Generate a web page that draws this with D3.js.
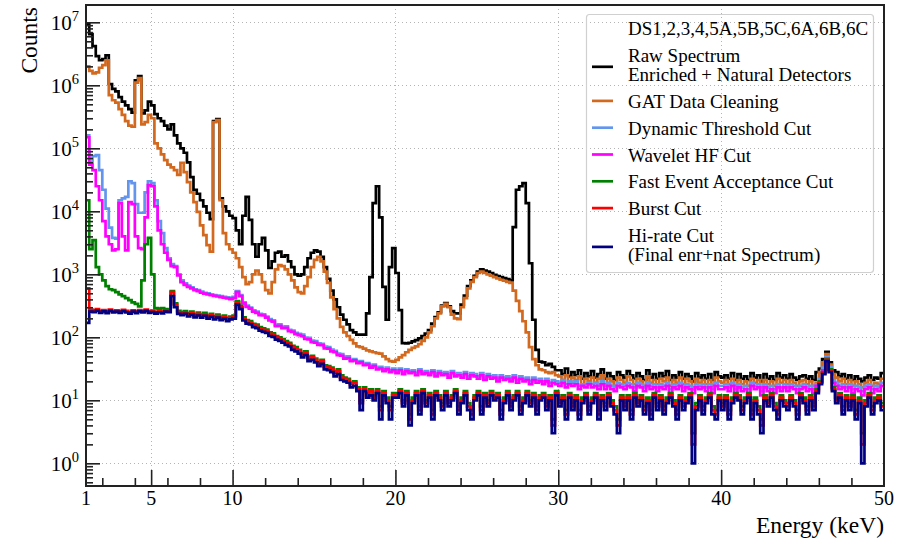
<!DOCTYPE html>
<html>
<head>
<meta charset="utf-8">
<script src="https://cdnjs.cloudflare.com/ajax/libs/d3/7.8.5/d3.min.js"></script>
<style>
body { margin:0; background:#fff; }
</style>
</head>
<body>
<svg id="spectrum"></svg>
<script>
// energy bins: 0.2 keV wide, starting at 1 keV (245 bins up to 50 keV)
var binStart = 1;
var binWidth = 0.2;

var rawSpectrum = [
9.5e6,6.5e6,4.2e6,2.9e6,2.5e6, 2.6e6,3.0e6,1.05e6,8.8e5,8.0e5,
6.5e5,5.5e5,4.8e5,4.2e5,3.7e5, 1.2e6,1.4e6,3.6e5,4.0e5,5.5e5,
4.8e5,3.5e5,3.0e5,2.7e5,2.3e5, 2.0e5,2.4e5,1.6e5,1.2e5,1.0e5,
8.5e4,6.0e4,3.5e4,2.2e4,1.9e4, 1.5e4,1.2e4,9.5e3,7.5e3,2.7e5,
2.9e5,1.6e4,1.2e4,1.0e4,8.5e3, 7.8e3,5.0e3,3.0e3,8.5e3,1.7e4,
7.3e3,3.0e3,1.9e3,3.0e3,3.8e3, 2.4e3,1260,1.6e3,2.2e3,2.3e3,
1.9e3,2.0e3,1.6e3,1.3e3,1.0e3, 950,1.0e3,1.3e3,1.8e3,2.2e3,
2.4e3,2.3e3,1.9e3,1.3e3,850, 550,400,300,230,190,
160,130,120,110,110, 110,240,900,1.35e4,2.5e4,
8.0e3,630,190,1.3e3,2.6e3, 1050,270,81,80,82,
86,90,96,105,115, 130,165,210,250,320,
350,310,260,240,240, 330,460,650,800,950,
1100,1200,1150,1100,1050, 980,940,900,870,840,
800,5600,2.2e4,2.5e4,2.8e4, 1.35e4,1500,190,63,41,
40,36,38,34,30, 30,26,32,24,28,
25,30,22,27,24, 29,23,26,31,22,
27,24,21,28,25, 23,29,25,22,27,
24,21,30,23,26, 22,27,24,29,21,
25,23,28,22,26, 24,20,27,23,25,
22,26,21,28,24, 23,25,22,27,21,
26,22,24,21,27, 23,25,20,26,22,
24,21,27,23,25, 22,26,23,21,24,
25,22,24,21,28, 32,45,59,40,30,
28,24,26,22,25, 21,24,22,20,23,
25,21,23,22,27
];

var gatCleaning = [
2.0e6,1.7e6,1.55e6,1.6e6,1.9e6, 2.1e6,2.5e6,7.0e5,5.8e5,5.3e5,
4.2e5,3.4e5,2.7e5,2.3e5,2.2e5, 1.1e6,1.3e6,2.4e5,2.6e5,3.4e5,
3.0e5,1.2e5,1.0e5,8.0e4,6.5e4, 5.5e4,5.0e4,4.5e4,3.8e4,5.9e4,
4.2e4,2.9e4,2.0e4,1.4e4,9.8e3, 6.0e3,4.2e3,2.9e3,2.3e3,2.6e5,
2.8e5,1.5e4,4.5e3,3.0e3,2.5e3, 2.2e3,1.8e3,1.3e3,900,700,
750,1000,1150,1000,750, 560,500,750,1200,1400,
1350,1200,1000,800,620, 520,500,650,900,1300,
1700,1900,1600,1100,730, 430,280,200,146,120,
105,91,80,72,70, 66,62,60,58,56,
55,50,45,42,41, 44,48,52,58,63,
68,72,78,88,100, 120,150,200,240,310,
340,300,230,200,195, 300,420,600,760,900,
1050,1100,1050,1000,950, 900,860,820,790,760,
730,550,380,260,180, 120,70,45,36,31,
30,28,27,28,25, 24,21,25,20,23,
21,24,18,22,20, 23,19,22,25,18,
22,20,17,23,21, 19,24,21,18,22,
20,17,24,19,21, 18,22,20,23,17,
21,19,23,18,22, 20,16,22,19,21,
18,21,17,23,20, 19,21,18,22,17,
21,18,20,17,22, 19,21,16,21,18,
20,17,22,19,21, 18,21,19,17,20,
21,18,20,17,19, 28,40,54,37,26,
23,20,22,18,21, 17,20,18,16,19,
21,17,19,18,22
];

var dynamicThreshold = [
1.6e5,6.0e4,7.5e4,7.8e4,4.5e4, 2.2e4,1.1e4,5.5e3,3.8e3,3.7e3,
1.5e4,1.6e4,1.7e4,3.0e4,2.8e4, 1.3e4,9.5e3,9.5e3,2.0e4,3.0e4,
2.8e4,1.5e4,7.0e3,4.5e3,2.6e3, 1.8e3,1.45e3,1.35e3,1.0e3,800,
720,660,620,580,560, 530,510,500,480,470,
460,450,440,430,420, 440,540,470,360,320,
295,268,255,236,232, 214,195,186,158,160,
147,150,132,128,118, 114,110,99,98,89,
87,80,79,71,70, 64,61,55,54,49,
50,44,45,41,42, 38,39,35,37,33,
34,31,33,30,32, 29,32,28,31,29,
30,27,31,28,29, 27,30,26,29,27,
28,25,29,26,27, 25,28,24,27,26,
24,27,23,26,24, 25,22,25,23,24,
22,25,21,24,22, 23,20,23,21,22,
20,22,19,21,20, 19,21,18,20,19,
20,17,18,18,19, 18,19,17,20,17,
19,17,16,19,18, 17,19,18,16,19,
18,16,19,17,18, 16,18,17,19,15,
18,17,19,16,18, 17,15,18,17,18,
16,18,15,19,17, 17,18,16,19,15,
18,16,17,15,19, 17,18,14,18,16,
17,15,18,16,18, 16,18,17,15,17,
18,16,17,15,18, 22,33,49,34,21,
19,17,18,16,18, 15,17,16,14,17,
18,15,17,16,19
];

var waveletHF = [
1.5e5,5.5e4,4.5e4,2.5e4,1.5e4, 7.0e3,4.0e3,3.0e3,2.4e3,2.5e3,
1.35e4,4.0e3,2.4e3,1.4e4,1.3e4, 4.0e3,2.6e3,2.5e3,8.0e3,2.6e4,
2.5e4,1.2e4,5.0e3,3.0e3,2.2e3, 1.7e3,1.35e3,1.3e3,960,750,
680,630,600,560,540, 510,495,480,465,455,
445,435,425,415,405, 420,520,450,345,305,
285,255,245,225,222, 205,185,178,150,152,
140,142,125,122,112, 108,104,94,93,84,
82,76,75,67,66, 60,58,52,51,46,
47,42,43,39,40, 36,37,33,35,31,
32,29,31,28,30, 27,30,26,29,27,
28,25,29,26,27, 25,28,24,27,25,
26,23,27,24,25, 23,26,22,25,24,
22,25,21,24,22, 23,20,23,21,22,
20,23,19,22,20, 21,18,21,19,20,
18,20,17,19,18, 17,19,16,18,17,
18,15,17,16,18, 16,17,15,18,15,
17,15,14,17,16, 15,17,16,14,17,
16,14,17,15,16, 14,16,15,17,13,
16,15,17,14,16, 15,13,16,15,16,
14,16,13,17,15, 15,16,14,17,13,
16,14,15,13,17, 15,16,12,16,14,
15,13,16,14,16, 14,16,15,13,15,
16,14,15,13,17, 20,30,46,31,19,
17,15,16,14,16, 13,15,14,12,15,
16,13,15,14,17
];

var fastEventAcceptance = [
1.5e4,2.5e3,3.5e3,1.3e3,1.0e3, 800,650,580,560,520,
480,450,420,390,360, 340,310,800,3.0e3,3.8e3,
1.0e3,290,285,290,280, 275,540,345,262,250,
260,240,255,232,247, 229,244,221,236,216,
229,211,221,202,214, 221,375,315,208,187,
181,164,159,145,139, 133,120,116,105,100,
94,87,82,73,70, 63,56,60,49,51,
46,40,44,36,35, 33,29,31,25,23,
22,19,20,16,10, 16,13,15,12,15,
8,14,11,8,13, 13,15,10,14,6,
11,14,8,15,10, 13,7,14,12,9,
14,10,12,15,8, 11,14,9,7,12,
14,8,13,10,14, 12,13,7,11,14,
9,12,14,8,11, 14,10,13,8,12,
13,9,12,5,14, 10,12,7,13,9,
12,7,11,13,8, 11,13,7,12,9,
13,10,8,5,12, 9,12,7,13,10,
12,8,11,7,13, 9,12,8,11,13,
10,7,12,9,11, 13,3,9,12,8,
11,13,8,7,12, 9,12,7,11,13,
12,8,11,13,7, 11,8,5,12,10,
13,9,7,12,10, 9,12,10,7,13,
11,8,12,9,15, 20,28,45,31,16,
11,13,8,12,9, 12,7,11,3,10,
13,8,11,12,9
];

var burstCut = [
600,275,265,280,260, 270,255,275,260,268,
258,272,262,250,268, 255,270,262,275,258,
265,250,262,255,268, 262,520,330,250,238,
248,228,243,220,235, 218,232,210,225,205,
218,200,210,192,204, 210,360,300,198,178,
172,156,151,138,132, 127,114,110,100,95,
89,83,78,69,66, 60,53,57,46,48,
44,38,42,34,33, 31,27,29,23,22,
21,18,19,15,9, 15,12,14,11,14,
7,13,10,7,12, 12,14,9,13,5,
10,13,7,14,9, 12,6,13,11,8,
13,9,11,14,7, 10,13,8,6,11,
13,7,12,9,13, 11,12,6,10,13,
8,11,13,7,10, 13,9,12,7,11,
12,8,11,4,13, 9,11,6,12,8,
11,6,10,12,7, 10,12,6,11,8,
12,9,7,4,11, 8,11,6,12,9,
11,7,10,6,12, 8,11,7,10,12,
9,6,11,8,10, 12,2,8,11,7,
10,12,7,6,11, 8,11,6,10,12,
11,7,10,12,6, 10,7,4,11,9,
12,8,6,11,9, 8,11,9,6,12,
10,7,11,8,14, 19,27,44,30,15,
10,12,7,11,8, 11,6,10,2,9,
12,7,10,11,8
];

var hiRateCut = [
170,255,250,265,245, 258,242,262,248,255,
245,260,248,238,255, 242,258,248,262,245,
252,238,250,240,255, 250,450,300,235,225,
235,215,230,208,222, 205,220,198,212,192,
205,188,198,180,192, 198,330,280,185,165,
160,145,140,128,122, 118,105,102,92,88,
82,76,72,63,60, 55,48,52,42,44,
40,35,38,31,30, 28,24,26,21,20,
19,16,17,14,7, 14,11,12,10,13,
5,12,9,5,11, 11,13,8,12,4,
9,12,6,13,8, 11,5,12,10,7,
12,8,10,13,6, 9,12,7,5,10,
12,6,11,8,12, 10,11,5,9,12,
7,10,12,6,9, 12,8,11,6,10,
11,7,10,3,12, 8,10,5,11,7,
10,5,9,11,6, 9,11,5,10,7,
11,8,6,3,10, 7,10,5,11,8,
10,6,9,5,11, 7,10,6,9,11,
8,5,10,7,9, 11,1,7,10,6,
9,11,6,5,10, 7,10,5,9,11,
10,6,9,11,5, 9,6,3,10,8,
11,7,5,10,8, 7,10,8,5,11,
9,6,10,7,13, 18,26,42,28,14,
9,11,6,10,7, 10,5,9,1,8,
11,6,9,10,7
];

var seriesValues = [rawSpectrum, gatCleaning, dynamicThreshold, waveletHF,
                    fastEventAcceptance, burstCut, hiRateCut];
var seriesColors = ["#000000","#d2691e","#6495ed","#ff00ff","#008000","#ff0000","#000080"];
var legendHeader = "DS1,2,3,4,5A,5B,5C,6A,6B,6C";
var legendLabels = [
    ["Raw Spectrum","Enriched + Natural Detectors"],
    ["GAT Data Cleaning"],
    ["Dynamic Threshold Cut"],
    ["Wavelet HF Cut"],
    ["Fast Event Acceptance Cut"],
    ["Burst Cut"],
    ["Hi-rate Cut","(Final enr+nat Spectrum)"]
];
var xTickLabels = [1,5,10,20,30,40,50];
var xMajorTicks = [5,10,20,30,40];
var xGrid = [5,10,20,30,40];
var yDecades = [0,1,2,3,4,5,6,7];

var screen = {width:909, height:540};
var plot = {left:86, top:5, right:884, bottom:486};
var serif = "Liberation Serif, Times New Roman, serif";

var svg = d3.select("#spectrum")
    .attr("width",screen.width)
    .attr("height",screen.height)
    .attr("font-family",serif);

var xScale = d3.scaleLinear()
    .domain([1,50])
    .range([plot.left,plot.right]);

var yScale = d3.scaleLog()
    .domain([Math.pow(10,-0.36),Math.pow(10,7.275)])
    .range([plot.bottom,plot.top]);

// grid
var grid = svg.append("g")
    .attr("stroke","#b4b4b4")
    .attr("stroke-width",1)
    .attr("stroke-dasharray","1,3");

grid.selectAll(".hgrid")
    .data(yDecades)
    .enter()
    .append("line")
    .attr("x1",plot.left)
    .attr("x2",plot.right)
    .attr("y1",function(d){return Math.round(yScale(Math.pow(10,d)))+0.5})
    .attr("y2",function(d){return Math.round(yScale(Math.pow(10,d)))+0.5});

grid.selectAll(".vgrid")
    .data(xGrid)
    .enter()
    .append("line")
    .attr("y1",plot.top)
    .attr("y2",plot.bottom)
    .attr("x1",function(d){return Math.round(xScale(d))+0.5})
    .attr("x2",function(d){return Math.round(xScale(d))+0.5});

// histograms
svg.append("clipPath")
    .attr("id","plotclip")
    .append("rect")
    .attr("x",plot.left)
    .attr("y",plot.top)
    .attr("width",plot.right-plot.left)
    .attr("height",plot.bottom-plot.top);

var stepPoints = function(values)
{
    var pts = [];
    values.forEach(function(v,i)
    {
        var lo = binStart+i*binWidth;
        pts.push([xScale(lo),yScale(v)]);
        pts.push([xScale(lo+binWidth),yScale(v)]);
    });
    return pts;
}

var lineGenerator = d3.line();

svg.append("g")
    .attr("clip-path","url(#plotclip)")
    .selectAll("path")
    .data(seriesValues)
    .enter()
    .append("path")
    .attr("d",function(values){return lineGenerator(stepPoints(values))})
    .attr("fill","none")
    .attr("stroke",function(values,i){return seriesColors[i]})
    .attr("stroke-width",2.7)
    .attr("stroke-linejoin","miter");

// axes
var minorY = [];
yDecades.concat([-1]).forEach(function(d)
{
    for (var k=2;k<10;k++)
    {
        var v = k*Math.pow(10,d);
        if (v>yScale.domain()[0] && v<yScale.domain()[1]) minorY.push(v);
    }
});

var yAxisMajor = d3.axisLeft(yScale)
    .tickValues(yDecades.map(function(d){return Math.pow(10,d)}))
    .tickSize(-14)
    .tickFormat("");
var yAxisMinor = d3.axisLeft(yScale)
    .tickValues(minorY)
    .tickSize(-7)
    .tickFormat("");

var xMinor = d3.range(2,50,2).filter(function(d){return xMajorTicks.indexOf(d)<0});
var xAxisMajor = d3.axisBottom(xScale)
    .tickValues(xMajorTicks)
    .tickSize(-16)
    .tickFormat("");
var xAxisMinor = d3.axisBottom(xScale)
    .tickValues(xMinor)
    .tickSize(-8)
    .tickFormat("");

var axes = svg.append("g");
[yAxisMajor,yAxisMinor].forEach(function(ax)
{
    axes.append("g")
        .attr("transform","translate("+plot.left+",0)")
        .call(ax)
        .call(function(g){g.select(".domain").remove()})
        .selectAll("line")
        .attr("stroke","#222")
        .attr("stroke-width",1.6);
});
[xAxisMajor,xAxisMinor].forEach(function(ax)
{
    axes.append("g")
        .attr("transform","translate(0,"+plot.bottom+")")
        .call(ax)
        .call(function(g){g.select(".domain").remove()})
        .selectAll("line")
        .attr("stroke","#222")
        .attr("stroke-width",1.6);
});

svg.append("rect")
    .attr("x",plot.left)
    .attr("y",plot.top)
    .attr("width",plot.right-plot.left)
    .attr("height",plot.bottom-plot.top)
    .attr("fill","none")
    .attr("stroke","#222")
    .attr("stroke-width",2);

// tick labels
var labels = svg.append("g")
    .attr("fill","#000")
    .attr("font-family",serif);

labels.selectAll(".xlab")
    .data(xTickLabels)
    .enter()
    .append("text")
    .attr("x",function(d){return xScale(d)})
    .attr("y",505)
    .attr("text-anchor","middle")
    .attr("font-size",20)
    .text(function(d){return d});

var ylab = labels.selectAll(".ylab")
    .data(yDecades)
    .enter()
    .append("text")
    .attr("x",79)
    .attr("y",function(d){return yScale(Math.pow(10,d))+8})
    .attr("text-anchor","end")
    .attr("font-size",21);
ylab.append("tspan").text("10");
ylab.append("tspan")
    .attr("font-size",14.5)
    .attr("dy",-9)
    .text(function(d){return d});

labels.append("text")
    .attr("x",plot.right)
    .attr("y",533)
    .attr("text-anchor","end")
    .attr("font-size",23.5)
    .text("Energy (keV)");

labels.append("text")
    .attr("transform","translate(37,7) rotate(-90)")
    .attr("text-anchor","end")
    .attr("font-size",23.5)
    .text("Counts");

// legend
var legend = svg.append("g").attr("font-family",serif);
legend.append("rect")
    .attr("x",586.5)
    .attr("y",14.5)
    .attr("width",287)
    .attr("height",258)
    .attr("rx",3)
    .attr("fill","none")
    .attr("stroke","#d0d0d0")
    .attr("stroke-width",1.2);

legend.append("text")
    .attr("x",628)
    .attr("y",35)
    .attr("font-size",19)
    .text(legendHeader);

var baseline = 35;
legendLabels.forEach(function(lines,i)
{
    baseline += 26.8;
    var first = baseline;
    var entry = legend.append("g");
    lines.forEach(function(line,j)
    {
        entry.append("text")
            .attr("x",628)
            .attr("y",first+j*19.3)
            .attr("font-size",19)
            .text(line);
    });
    baseline = first+(lines.length-1)*19.3;
    var sampleY = lines.length>1 ? first+5 : first-7;
    entry.append("line")
        .attr("x1",592)
        .attr("x2",613)
        .attr("y1",sampleY)
        .attr("y2",sampleY)
        .attr("stroke",seriesColors[i])
        .attr("stroke-width",2.7);
});
</script>
</body>
</html>
